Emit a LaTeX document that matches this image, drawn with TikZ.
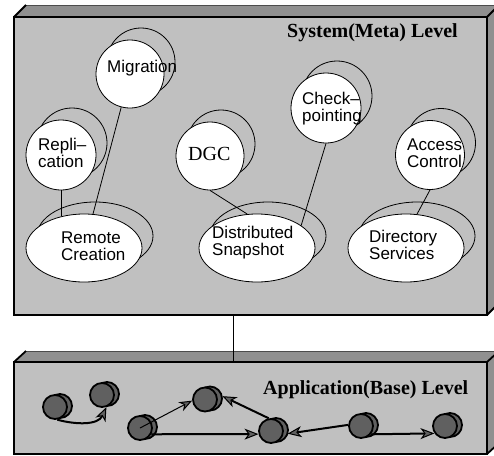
\documentclass[tikz,border=0pt]{standalone}
\usepackage{fontspec}
\setmainfont{Liberation Serif}
\newfontfamily\helv{Liberation Sans}
\usetikzlibrary{shapes.geometric,shadows,arrows.meta}
\definecolor{facegray}{RGB}{192,192,192}
\definecolor{topgray}{RGB}{144,144,144}
\definecolor{objgray}{RGB}{96,96,96}
\tikzset{
  face/.style={draw, line width=1.2pt, fill=facegray},
  corner/.style={line width=1.8pt},
  rim/.style={draw=black!70, line width=0.6pt},
  metacircle/.style={circle, draw, line width=0.8pt, fill=white, inner sep=0pt, minimum size=#1,
    general shadow={shadow scale=1, shadow xshift=11pt, shadow yshift=12pt, draw, line width=0.8pt, fill=facegray}},
  metacircle/.default=69pt,
  metaoval/.style={ellipse, draw, line width=0.8pt, fill=white, inner sep=0pt, minimum width=116pt, minimum height=68pt,
    general shadow={shadow scale=1, shadow xshift=11pt, shadow yshift=12pt, draw, line width=0.8pt, fill=facegray}},
  baseobj/.style={circle, draw, line width=1.8pt, fill=objgray, inner sep=0pt, minimum size=24pt,
    general shadow={shadow scale=1, shadow xshift=5pt, shadow yshift=1pt, draw, line width=1.8pt, fill=objgray}},
  metatext/.style={font=\helv\fontsize{17}{17}\selectfont, align=left, inner sep=0pt, anchor=west},
  leveltext/.style={font=\bfseries\fontsize{20}{24}\selectfont, inner sep=0pt, anchor=base west},
  link/.style={line width=0.8pt},
  call/.style={line width=2pt, -{Stealth[length=14pt, width=11pt, inset=4pt, fill=objgray, line width=1pt]}},
  thincall/.style={line width=1pt, -{Stealth[length=13pt, width=10pt, inset=4pt, fill=objgray, line width=1pt]}},
}
\begin{document}
\begin{tikzpicture}[x=1pt, y=1pt]
    \clip (0, 0) rectangle (494, -455);
    \fill[topgray] (14, -17) -- (26, -5) -- (499, -5) -- (487, -17) -- cycle;
    \fill[topgray] (487, -17) -- (499, -5) -- (499, -303) -- (487, -315) -- cycle;
    \draw[rim] (26, -5) -- (499, -5);
    \draw[corner] (14, -17) -- (26, -5);
    \draw[corner] (487, -17) -- (499, -5);
    \draw[corner] (487, -315) -- (499, -303);
    \draw[face] (14, -17) rectangle (487, -315);
    \fill[topgray] (14, -362) -- (26, -351) -- (499, -351) -- (487, -362) -- cycle;
    \fill[topgray] (487, -362) -- (499, -351) -- (499, -443) -- (487, -454) -- cycle;
    \draw[rim] (26, -351) -- (499, -351);
    \draw[corner] (14, -362) -- (26, -351);
    \draw[corner] (487, -362) -- (499, -351);
    \draw[corner] (487, -454) -- (499, -443);
    \draw[face] (14, -362) rectangle (487, -454);
    \coordinate (metabot) at(233, -315);
    \coordinate (basetop) at(233, -362);
    \draw[link] (metabot) -- (basetop);
    \node[leveltext] (metalabel) at(287, -37) {System(Meta) Level};
    \node[leveltext] (baselabel) at(263, -394) {Application(Base) Level};
    \node[metacircle=68pt] (mig) at(130, -74) {};
    \node[metacircle=70pt] (rep) at(61, -155) {};
    \node[metacircle=68pt] (dgc) at(210, -156) {};
    \node[metacircle=70pt] (chk) at(326, -108) {};
    \node[metacircle] (acc) at(430, -155) {};
    \node[metaoval] (rc) at(84, -248) {};
    \node[metaoval] (ds) at(257, -248) {};
    \node[metaoval] (dir) at(406, -248) {};
    \node[metatext, anchor=base west] (migtext) at(107, -72) {Migration};
    \node[metatext] (reptext) at(38, -152.5) {Repli–\\cation};
    \node[leveltext, font=\fontsize{20}{24}\selectfont] (dgctext) at(188, -160) {DGC};
    \node[metatext] (chktext) at(302, -108.5) {Check–\\pointing};
    \node[metatext] (acctext) at(407, -153.5) {Access\\Control};
    \node[metatext] (rctext) at(61, -246.5) {Remote\\Creation};
    \node[metatext] (dstext) at(212, -243) {Distributed\\Snapshot};
    \node[metatext] (dirtext) at(369, -244.5) {Directory\\Services};
    \draw[link] (mig) -- (rc);
    \draw[link] (rep) -- (rep |- rc.126);
    \draw[link] (dgc.south) -- (ds.106);
    \draw[link] (chk.south) -- (ds.27);
    \draw[link] (acc.south) -- (dir.72);
    \node[baseobj] (b1) at(55, -407) {};
    \node[baseobj] (b2) at(102, -395) {};
    \node[baseobj] (b3) at(140, -428) {};
    \node[baseobj] (b4) at(205, -399.5) {};
    \node[baseobj] (b5) at(271, -431) {};
    \node[baseobj] (b6) at(361, -426) {};
    \node[baseobj] (b7) at(445, -426) {};
    \draw[call] (b1.-80) to[out=-15, in=-115] (b2.-70);
    \draw[thincall] (b3.center) -- (b4.185);
    \draw[call] (b3.-29) -- (b5.194);
    \draw[call] (b5.100) -- ([xshift=5pt]b4.15);
    \draw[call] (b6.175) -- ([xshift=4pt]b5.-12);
    \draw[call] (b6.-40) -- (b7.215);
\end{tikzpicture}
\end{document}
